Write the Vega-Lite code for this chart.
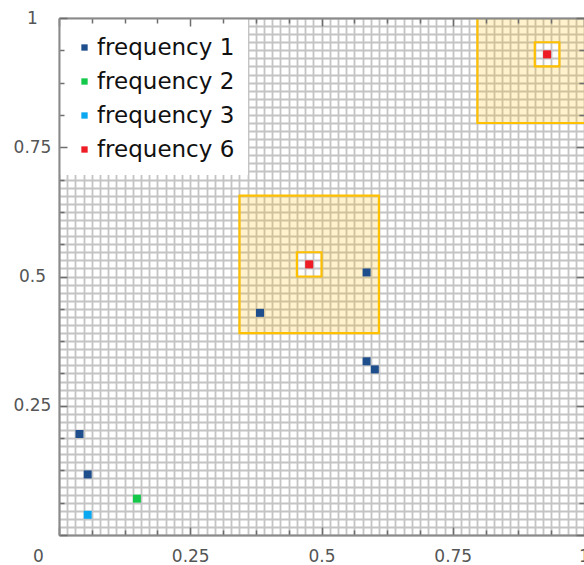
{
  "$schema": "https://vega.github.io/schema/vega-lite/v6.json",
  "autosize": "none",
  "padding": {"left": 59, "top": 18, "right": 0, "bottom": 30},
  "width": 525,
  "height": 517,
  "background": "white",
  "config": {
    "view": {"stroke": null},
    "axis": {"labelFont": "DejaVu Sans", "title": null}
  },
  "datasets": {
    "shade": [
      {"x0": 0.34375, "x1": 0.609375, "y0": 0.390625, "y1": 0.5},
      {"x0": 0.34375, "x1": 0.609375, "y0": 0.546875, "y1": 0.65625},
      {"x0": 0.34375, "x1": 0.453125, "y0": 0.5, "y1": 0.546875},
      {"x0": 0.5, "x1": 0.609375, "y0": 0.5, "y1": 0.546875},
      {"x0": 0.796875, "x1": 1.0625, "y0": 0.796875, "y1": 0.90625},
      {"x0": 0.796875, "x1": 1.0625, "y0": 0.953125, "y1": 1.0625},
      {"x0": 0.796875, "x1": 0.90625, "y0": 0.90625, "y1": 0.953125},
      {"x0": 0.953125, "x1": 1.0625, "y0": 0.90625, "y1": 0.953125}
    ],
    "boxes": [
      {"x0": 0.34375, "x1": 0.609375, "y0": 0.390625, "y1": 0.65625},
      {"x0": 0.453125, "x1": 0.5, "y0": 0.5, "y1": 0.546875},
      {"x0": 0.796875, "x1": 1.0625, "y0": 0.796875, "y1": 1.0625},
      {"x0": 0.90625, "x1": 0.953125, "y0": 0.90625, "y1": 0.953125}
    ],
    "points": [
      {"x": 0.0390625, "y": 0.1953125, "series": "frequency 1"},
      {"x": 0.0546875, "y": 0.1171875, "series": "frequency 1"},
      {"x": 0.5859375, "y": 0.3359375, "series": "frequency 1"},
      {"x": 0.6015625, "y": 0.3203125, "series": "frequency 1"},
      {"x": 0.5859375, "y": 0.5078125, "series": "frequency 1"},
      {"x": 0.3828125, "y": 0.4296875, "series": "frequency 1"},
      {"x": 0.1484375, "y": 0.0703125, "series": "frequency 2"},
      {"x": 0.0546875, "y": 0.0390625, "series": "frequency 3"},
      {"x": 0.4765625, "y": 0.5234375, "series": "frequency 6"},
      {"x": 0.9296875, "y": 0.9296875, "series": "frequency 6"}
    ]
  },
  "resolve": {
    "scale": {"x": "independent", "y": "independent"},
    "axis": {"x": "independent", "y": "independent"}
  },
  "layer": [
    {
      "data": {"name": "shade"},
      "mark": {"type": "rect", "fill": "#ffc000", "opacity": 0.2, "clip": true},
      "encoding": {
        "x": {"field": "x0", "type": "quantitative", "scale": {"domain": [0, 1], "nice": false, "zero": false},
          "axis": {"orient": "bottom", "values": [0,0.015625,0.03125,0.046875,0.0625,0.078125,0.09375,0.109375,0.125,0.140625,0.15625,0.171875,0.1875,0.203125,0.21875,0.234375,0.25,0.265625,0.28125,0.296875,0.3125,0.328125,0.34375,0.359375,0.375,0.390625,0.40625,0.421875,0.4375,0.453125,0.46875,0.484375,0.5,0.515625,0.53125,0.546875,0.5625,0.578125,0.59375,0.609375,0.625,0.640625,0.65625,0.671875,0.6875,0.703125,0.71875,0.734375,0.75,0.765625,0.78125,0.796875,0.8125,0.828125,0.84375,0.859375,0.875,0.890625,0.90625,0.921875,0.9375,0.953125,0.96875,0.984375,1],
            "grid": true, "gridColor": "#c4c4c4", "gridWidth": 1.8, "ticks": false, "labels": false, "domain": false, "zindex": 0}},
        "x2": {"field": "x1"},
        "y": {"field": "y0", "type": "quantitative", "scale": {"domain": [0, 1], "nice": false, "zero": false},
          "axis": {"orient": "left", "values": [0,0.015625,0.03125,0.046875,0.0625,0.078125,0.09375,0.109375,0.125,0.140625,0.15625,0.171875,0.1875,0.203125,0.21875,0.234375,0.25,0.265625,0.28125,0.296875,0.3125,0.328125,0.34375,0.359375,0.375,0.390625,0.40625,0.421875,0.4375,0.453125,0.46875,0.484375,0.5,0.515625,0.53125,0.546875,0.5625,0.578125,0.59375,0.609375,0.625,0.640625,0.65625,0.671875,0.6875,0.703125,0.71875,0.734375,0.75,0.765625,0.78125,0.796875,0.8125,0.828125,0.84375,0.859375,0.875,0.890625,0.90625,0.921875,0.9375,0.953125,0.96875,0.984375,1],
            "grid": true, "gridColor": "#c4c4c4", "gridWidth": 1.8, "ticks": false, "labels": false, "domain": false, "zindex": 0}},
        "y2": {"field": "y1"}
      }
    },
    {
      "data": {"name": "boxes"},
      "mark": {"type": "rect", "filled": false, "stroke": "#ffc000", "strokeWidth": 2.2, "clip": true},
      "encoding": {
        "x": {"field": "x0", "type": "quantitative", "scale": {"domain": [0, 1], "nice": false, "zero": false},
          "axis": {"orient": "bottom", "values": [0,0.0625,0.125,0.1875,0.25,0.3125,0.375,0.4375,0.5,0.5625,0.625,0.6875,0.75,0.8125,0.875,0.9375,1],
            "grid": false, "domain": true, "domainColor": "#8a8a8a", "domainWidth": 2,
            "ticks": true, "tickColor": "#6e6e6e", "tickWidth": 1.5,
            "tickSize": {"condition": {"test": "(datum.value*4) % 1 === 0", "value": -8}, "value": -5},
            "format": ".2~f",
            "labelExpr": "(datum.value*4) % 1 === 0 ? datum.label : ''",
            "labelOffset": {"condition": {"test": "datum.value === 0", "value": -21}, "value": 0},
            "labelPadding": 21, "labelFontSize": 17, "labelColor": "#555555", "labelFlush": false, "labelOverlap": false,
            "zindex": 1}},
        "x2": {"field": "x1"},
        "y": {"field": "y0", "type": "quantitative", "scale": {"domain": [0, 1], "nice": false, "zero": false},
          "axis": {"orient": "left", "values": [0,0.0625,0.125,0.1875,0.25,0.3125,0.375,0.4375,0.5,0.5625,0.625,0.6875,0.75,0.8125,0.875,0.9375,1],
            "grid": false, "domain": true, "domainColor": "#8a8a8a", "domainWidth": 2,
            "ticks": true, "tickColor": "#6e6e6e", "tickWidth": 1.5,
            "tickSize": {"condition": {"test": "(datum.value*4) % 1 === 0", "value": -8}, "value": -5},
            "format": ".2~f",
            "labelExpr": "(datum.value*4) % 1 === 0 && datum.value > 0 ? datum.label : ''",
            "labelAlign": "center", "labelBaseline": "middle",
            "labelPadding": 35, "labelFontSize": 17, "labelColor": "#555555", "labelFlush": false, "labelOverlap": false,
            "zindex": 1}},
        "y2": {"field": "y1"}
      }
    },
    {
      "data": {"name": "points"},
      "mark": {"type": "square", "size": 64, "opacity": 1, "clip": true},
      "encoding": {
        "x": {"field": "x", "type": "quantitative", "scale": {"domain": [0, 1], "nice": false, "zero": false},
          "axis": {"orient": "top", "values": [0,0.0625,0.125,0.1875,0.25,0.3125,0.375,0.4375,0.5,0.5625,0.625,0.6875,0.75,0.8125,0.875,0.9375,1],
            "grid": false, "labels": false, "domain": true, "domainColor": "#8a8a8a", "domainWidth": 2,
            "ticks": true, "tickColor": "#6e6e6e", "tickWidth": 1.5,
            "tickSize": {"condition": {"test": "(datum.value*4) % 1 === 0", "value": -8}, "value": -5},
            "zindex": 1}},
        "y": {"field": "y", "type": "quantitative", "scale": {"domain": [0, 1], "nice": false, "zero": false},
          "axis": {"orient": "right", "values": [0,0.0625,0.125,0.1875,0.25,0.3125,0.375,0.4375,0.5,0.5625,0.625,0.6875,0.75,0.8125,0.875,0.9375,1],
            "grid": false, "labels": false, "domain": false,
            "ticks": true, "tickColor": "#6e6e6e", "tickWidth": 1.5,
            "tickSize": {"condition": {"test": "(datum.value*4) % 1 === 0", "value": -8}, "value": -5},
            "zindex": 1}},
        "color": {"field": "series", "type": "nominal",
          "scale": {"domain": ["frequency 1", "frequency 2", "frequency 3", "frequency 6"], "range": ["#1f4e8c", "#14c84a", "#0aa8f0", "#ee1c24"]},
          "legend": {"orient": "top-left", "offset": 0, "title": " ", "titleFontSize": 1, "titlePadding": 4, "fillColor": "white", "padding": 13,
            "symbolType": "square", "symbolSize": 40, "symbolStrokeWidth": 0, "symbolOffset": 1,
            "labelFont": "DejaVu Sans", "labelFontSize": 23, "labelColor": "#111111", "labelOffset": 1,
            "rowPadding": 10, "labelLimit": 400}}
      }
    }
  ]
}
